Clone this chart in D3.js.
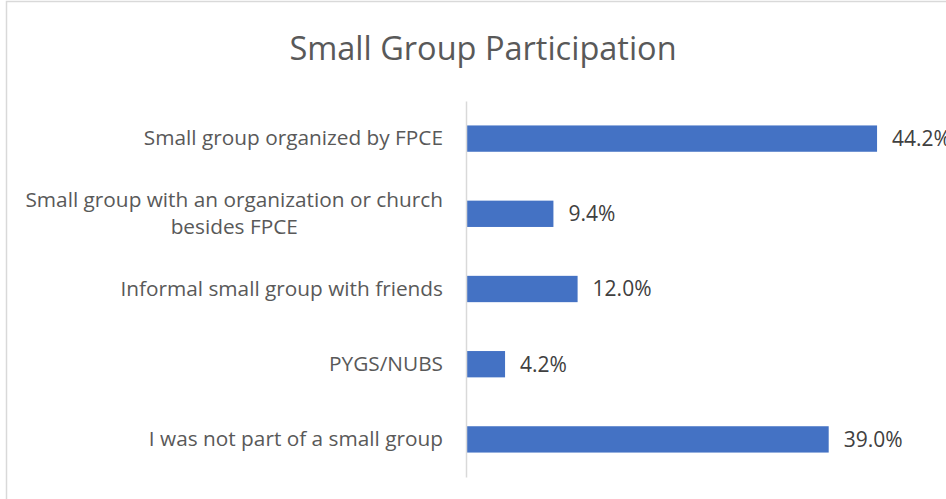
<!DOCTYPE html>
<html>
<head>
<meta charset="utf-8">
<script src="https://cdn.jsdelivr.net/npm/d3@7"></script>
<style>
  body { margin: 0; background: #fff; }
  svg { display: block; font-family: 'Open Sans', sans-serif; }
</style>
</head>
<body>
<svg width="946" height="499"></svg>
<script>
const categories = [
  'Small group organized by FPCE',
  'Small group with an organization or church besides FPCE',
  'Informal small group with friends',
  'PYGS/NUBS',
  'I was not part of a small group'
];
const values = [44.2, 9.4, 12.0, 4.2, 39.0];

const svg = d3.select('svg');
const MARGIN = { TOP: 101, LEFT: 466 };
const WIDTH = 9.3 * 50; // px per % times domain max
const HEIGHT = 376;
const LABEL_SIZE = 20.8;

// chart frame
svg.append('rect')
  .attr('x', 6.5).attr('y', 1.5)
  .attr('width', 1000).attr('height', 600)
  .attr('fill', 'none')
  .attr('stroke', '#d9d9d9')
  .attr('stroke-width', 1.5);

svg.append('text')
  .attr('x', 483).attr('y', 60)
  .attr('text-anchor', 'middle')
  .style('font-size', '32.5px')
  .style('fill', '#595959')
  .text('Small Group Participation');

const g = svg.append('g')
  .attr('transform', `translate(${MARGIN.LEFT}, ${MARGIN.TOP})`);

const x = d3.scaleLinear().domain([0, 50]).range([0, WIDTH]);
const y = d3.scaleBand().domain(categories).range([0, HEIGHT]).paddingInner(0.65).paddingOuter(0.325);

g.selectAll('.bar')
  .data(values)
  .enter()
  .append('rect')
  .attr('class', 'bar')
  .attr('x', 0)
  .attr('y', (d, i) => y(categories[i]))
  .attr('width', d => x(d))
  .attr('height', y.bandwidth())
  .attr('fill', '#4472c4');

g.selectAll('.val')
  .data(values)
  .enter()
  .append('text')
  .attr('class', 'val')
  .attr('x', d => x(d) + 15)
  .attr('y', (d, i) => y(categories[i]) + y.bandwidth() / 2)
  .attr('dy', '.35em')
  .style('font-size', '21px')
  .style('fill', '#404040')
  .text(d => d.toFixed(1) + '%');

// y axis with wrapped labels
const yAxis = g.append('g')
  .attr('class', 'axis')
  .call(d3.axisLeft(y).tickSize(0).tickPadding(23));
yAxis.select('.domain')
  .attr('stroke', '#d9d9d9')
  .attr('stroke-width', 1.5);
yAxis.selectAll('text')
  .style('font-size', LABEL_SIZE + 'px')
  .style('font-family', "'Open Sans', sans-serif")
  .style('fill', '#595959')
  .call(wrap, 430);

function wrap(texts, maxWidth) {
  texts.each(function () {
    const text = d3.select(this);
    const words = text.text().split(/\s+/);
    const xPos = +text.attr('x');
    let lines = [];
    let line = [];
    const probe = text.text(null).append('tspan');
    words.forEach(w => {
      line.push(w);
      probe.text(line.join(' '));
      if (probe.node().getComputedTextLength() > maxWidth && line.length > 1) {
        line.pop();
        lines.push(line.join(' '));
        line = [w];
      }
    });
    lines.push(line.join(' '));
    probe.remove();
    if (lines.length === 1) {
      text.append('tspan').attr('x', xPos).text(lines[0]);
      return;
    }
    // measure longest line, center the block under it
    const widths = lines.map(l => {
      const t = text.append('tspan').text(l);
      const w = t.node().getComputedTextLength();
      t.remove();
      return w;
    });
    const maxW = d3.max(widths);
    const lh = 27;
    const first = -(lines.length - 1) * lh / 2 + 0.32 * LABEL_SIZE;
    text.attr('text-anchor', 'middle').attr('dy', null);
    lines.forEach((l, i) => {
      text.append('tspan')
        .attr('x', xPos - maxW / 2)
        .attr('dy', i === 0 ? first + 'px' : lh + 'px')
        .text(l);
    });
  });
}
</script>
</body>
</html>
